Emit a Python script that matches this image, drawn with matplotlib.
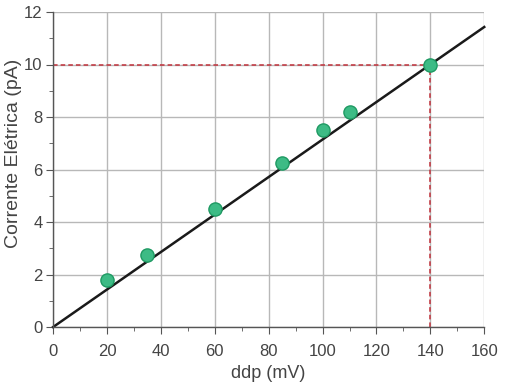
import matplotlib
matplotlib.use("Agg")
import matplotlib.pyplot as plt
import numpy as np
from matplotlib.ticker import MultipleLocator

ddp = [20, 35, 60, 85, 100, 110, 140]
corrente = [1.8, 2.75, 4.5, 6.25, 7.5, 8.2, 10.0]
fit_x = [0, 160]
slope = 10 / 140
ref_x, ref_y = 140, 10

plt.rcParams['font.family'] = ['Liberation Sans', 'DejaVu Sans']
fig = plt.figure(figsize=(5.06, 3.87), dpi=100)
ax = fig.add_axes([0.105, 0.155, 0.852, 0.814])

ax.set_xlim(0, 160)
ax.set_ylim(0, 12)
ax.xaxis.set_major_locator(MultipleLocator(20))
ax.xaxis.set_minor_locator(MultipleLocator(10))
ax.yaxis.set_major_locator(MultipleLocator(2))
ax.yaxis.set_minor_locator(MultipleLocator(1))
ax.grid(True, which='major', color='#b8b8b8', linewidth=1.0)
ax.set_axisbelow(True)
for s in ['top', 'right']:
    ax.spines[s].set_visible(False)
for s in ['left', 'bottom']:
    ax.spines[s].set_color('#555555')
    ax.spines[s].set_linewidth(1.0)
ax.tick_params(which='major', length=5, color='#555555', labelsize=12, labelcolor='#444444', direction='out')
ax.tick_params(axis='x', which='major', pad=7)
ax.tick_params(axis='y', which='major', pad=2.5)
ax.tick_params(which='minor', length=3, color='#555555')

ax.plot([0, ref_x], [ref_y, ref_y], color='#c0303a', linestyle=(0, (3, 2)), linewidth=1.1)
ax.plot([ref_x, ref_x], [0, ref_y], color='#c0303a', linestyle=(0, (3, 2)), linewidth=1.1)

fx = np.array(fit_x)
ax.plot(fx, slope * fx, color='#1a1a1a', linewidth=1.8, clip_on=False)

ax.plot(ddp, corrente, 'o', markersize=9.5, markerfacecolor='#3dbb85', markeredgecolor='#1f9a63', markeredgewidth=1, zorder=5)

ax.set_xlabel('ddp (mV)', fontsize=13, color='#444444')
ax.set_ylabel('Corrente Elétrica (pA)', fontsize=14, color='#444444')
ax.xaxis.set_label_coords(0.5, -0.122)
ax.yaxis.set_label_coords(-0.072, 0.55)

fig.savefig('out.png', dpi=100)
